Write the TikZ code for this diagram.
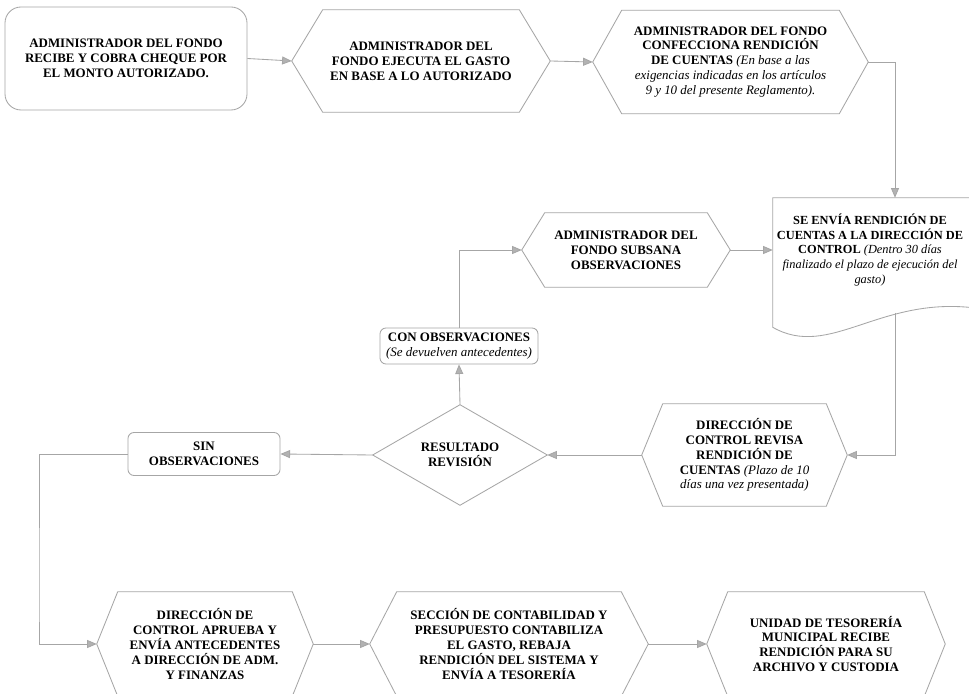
\documentclass[tikz,border=0pt]{standalone}
\usepackage{fontspec}
\setmainfont{Liberation Serif}
\usetikzlibrary{arrows.meta,calc}
\tikzset{
  dims/.style 2 args={minimum width=#1*0.025cm, minimum height=#2*0.025cm, inner sep=0pt},
  txt/.style={font=\fontsize{9.2}{10.6}\selectfont\bfseries, align=center},
  ln/.style={draw=gray!70, line width=0.6pt},
  arr/.style={ln, -{Triangle[length=2.4mm,width=2mm,fill=gray!60]}},
  rbox/.style={ln, rounded corners=#1},
}
% hexagon round a named node: #1 node, #2 inset of the points
\newcommand{\hexa}[2]{%
  \draw[ln] (#1.west) -- ($(#1.north west)+(#2,0)$) -- ($(#1.north east)-(#2,0)$)
    -- (#1.east) -- ($(#1.south east)-(#2,0)$) -- ($(#1.south west)+(#2,0)$) -- cycle;}
\newcommand{\obs}[1]{\textmd{\textit{#1}}}
\begin{document}
\begin{tikzpicture}[x=0.025cm,y=-0.025cm]
\useasboundingbox (0,0) rectangle (969,694);
\fill[white] (0,0) rectangle (969,694);
\clip (0,0) rectangle (969,694);

% first row
\node[txt, dims={242}{103}, rbox=4mm] (recibe) at (126,58.5)
  {ADMINISTRADOR DEL FONDO\\RECIBE Y COBRA CHEQUE POR\\EL MONTO AUTORIZADO.};
\node[txt, dims={258}{102}] (ejecuta) at (421,61)
  {ADMINISTRADOR DEL\\FONDO EJECUTA EL GASTO\\EN BASE A LO AUTORIZADO};
\hexa{ejecuta}{31}
\node[txt, dims={275}{103}] (confecciona) at (730.5,62)
  {ADMINISTRADOR DEL FONDO\\CONFECCIONA RENDICIÓN\\DE CUENTAS \obs{(En base a las}\\
   \obs{exigencias indicadas en los artículos}\\\obs{9 y 10 del presente Reglamento).}};
\hexa{confecciona}{29}

% document
\node[txt, font=\fontsize{8.8}{10.6}\selectfont\bfseries, dims={194}{104}] (envia) at (870,250)
  {SE ENVÍA RENDICIÓN DE\\CUENTAS A LA DIRECCIÓN DE\\CONTROL \obs{(Dentro 30 días}\\
   \obs{finalizado el plazo de ejecución del}\\\obs{gasto)}};
\draw[ln] (envia.south west) -- (envia.north west) -- ($(envia.north east)+(10,0)$)
  -- ($(envia.south east)+(10,6)$) .. controls (880,295) and (830,360) .. ($(envia.south west)+(0,25)$)
  -- cycle;
\coordinate (envia out) at (895,313);

% middle
\node[txt, dims={208}{74}] (subsana) at (626,250)
  {ADMINISTRADOR DEL\\FONDO SUBSANA\\OBSERVACIONES};
\hexa{subsana}{23}
\node[txt, dims={158}{36}, rbox=1.5mm] (conobs) at (459,346)
  {CON OBSERVACIONES\\\obs{(Se devuelven antecedentes)}};
\node[txt, dims={174}{100}] (resultado) at (460,455) {RESULTADO\\REVISIÓN};
\draw[ln] (resultado.west) -- (resultado.north) -- (resultado.east) -- (resultado.south) -- cycle;
\node[txt, dims={205}{102}] (revisa) at (744.5,455)
  {DIRECCIÓN DE\\CONTROL REVISA\\RENDICIÓN DE\\CUENTAS \obs{(Plazo de 10}\\\obs{días una vez presentada)}};
\hexa{revisa}{21}
\node[txt, dims={152}{43}, rbox=1.5mm] (sinobs) at (204,454)
  {SIN\\OBSERVACIONES};
\coordinate (esquina) at (39,600);

% last row
\node[txt, dims={216}{104}] (aprueba) at (205,644)
  {DIRECCIÓN DE\\CONTROL APRUEBA Y\\ENVÍA ANTECEDENTES\\A DIRECCIÓN DE ADM.\\Y FINANZAS};
\hexa{aprueba}{21}
\node[txt, dims={278}{104}] (contabiliza) at (509,644)
  {SECCIÓN DE CONTABILIDAD Y\\PRESUPUESTO CONTABILIZA\\EL GASTO, REBAJA\\RENDICIÓN DEL SISTEMA Y\\ENVÍA A TESORERÍA};
\hexa{contabiliza}{27}
\node[txt, dims={238}{104}] (tesoreria) at (826,644)
  {UNIDAD DE TESORERÍA\\MUNICIPAL RECIBE\\RENDICIÓN PARA SU\\ARCHIVO Y CUSTODIA};
\hexa{tesoreria}{21}

% connectors
\draw[arr] (recibe.east) -- (ejecuta.west);
\draw[arr] (ejecuta.east) -- (confecciona.west);
\draw[arr] (confecciona.east) -| (envia out |- envia.north);
\draw[arr] (envia out) |- (revisa.east);
\draw[arr] (revisa.west) -- (resultado.east);
\draw[arr] (resultado.north) -- (conobs.south);
\draw[arr] (conobs.north) |- (subsana.west);
\draw[arr] (subsana.east) -- (envia.west);
\draw[arr] (resultado.west) -- (sinobs.east);
\draw[arr] (sinobs.west) -| (esquina) |- (aprueba.west);
\draw[arr] (aprueba.east) -- (contabiliza.west);
\draw[arr] (contabiliza.east) -- (tesoreria.west);
\end{tikzpicture}
\end{document}
